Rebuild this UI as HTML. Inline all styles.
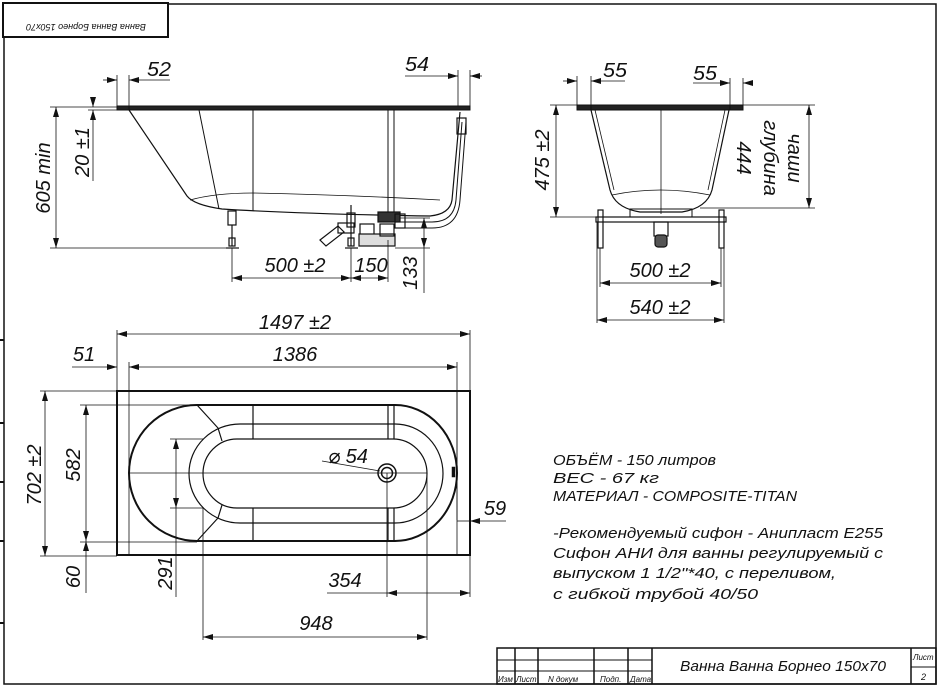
<!DOCTYPE html>
<html><head><meta charset="utf-8"><style>
html,body{margin:0;padding:0;background:#fff}
svg{display:block}
text{font-family:"Liberation Sans","DejaVu Sans",sans-serif;font-style:italic;fill:#111}
</style></head><body>
<svg width="940" height="686" viewBox="0 0 940 686" xmlns="http://www.w3.org/2000/svg">
<defs>
<marker id="a" viewBox="0 0 10 6" refX="10" refY="3" markerWidth="10" markerHeight="6" orient="auto-start-reverse" markerUnits="userSpaceOnUse"><path d="M0,0 L10,3 L0,6 Z" fill="#111"/></marker>
</defs>
<g stroke="#111" fill="none">
<!-- frame -->
<path d="M168,4 H936 V684 H4 V37" stroke-width="1.5"/>
<rect x="3" y="3" width="165" height="34" stroke-width="2"/>
<g stroke-width="2"><path d="M0,340 H4 M0,423 H4 M0,482 H4 M0,541 H4 M0,623 H4"/></g>

<!-- SIDE VIEW -->
<rect x="117" y="106" width="353" height="4" fill="#222" stroke-width="1"/>
<path d="M129,110 L187,196 Q194,205 222,209 Q300,214 430,216 Q450,214 452,200 L460,112" stroke-width="1.2"/>
<path d="M199,110 L219,209 M253,110 V211 M388,110 V214 M394,110 V214" stroke-width="1"/>
<path d="M190,200 Q215,193 253,193 Q350,195 440,200" stroke-width="0.8"/>
<path d="M462,122 L456,200 Q454,222 432,222 L400,222 M466,122 L460,200 Q458,228 432,228 L400,228" stroke-width="1"/>
<rect x="457" y="118" width="9" height="16" stroke-width="1.2"/>
<!-- legs -->
<g stroke-width="1.2">
<rect x="228" y="211" width="8" height="14"/><path d="M232,225 V246"/><rect x="229" y="238" width="6" height="8"/><path d="M226,248 H239"/>
<rect x="347" y="213" width="8" height="14"/><path d="M351,205 V246"/><rect x="348" y="238" width="6" height="8"/><path d="M345,248 H358"/>
</g>
<!-- siphon -->
<g stroke-width="1.2">
<path d="M320,240 L338,226 L344,232 L326,246 Z"/>
<rect x="338" y="223" width="16" height="10"/>
<rect x="360" y="224" width="14" height="12"/>
<rect x="359" y="234" width="36" height="12" fill="#ddd"/>
<rect x="378" y="212" width="22" height="10" fill="#333"/>
<rect x="395" y="214" width="10" height="14"/>
<rect x="380" y="224" width="14" height="12"/>
</g>
<!-- side dims -->
<g stroke-width="0.8">
<path d="M50,107 H117 M50,248 H238"/>
<path d="M56,107 V248" marker-start="url(#a)" marker-end="url(#a)"/>
<path d="M93,98 V107" marker-end="url(#a)"/><path d="M93,181 V110" marker-end="url(#a)"/><path d="M88,110 H117"/>
<path d="M117,75 V106 M129,75 V110"/>
<path d="M103,80 H117" marker-end="url(#a)"/><path d="M170,80 H129" marker-end="url(#a)"/>
<path d="M458,70 V106 M470,70 V106"/>
<path d="M405,76 H458" marker-end="url(#a)"/><path d="M482,76 H470" marker-end="url(#a)"/>
<path d="M232,248 V282 M351,248 V282 M388,240 V282"/>
<path d="M232,278 H351" marker-start="url(#a)" marker-end="url(#a)"/>
<path d="M351,278 H388" marker-start="url(#a)" marker-end="url(#a)"/>
<path d="M400,218 H430 M395,248 H430"/>
<path d="M424,218 V248" marker-start="url(#a)" marker-end="url(#a)"/><path d="M424,248 V293"/>
</g>

<!-- END VIEW -->
<rect x="577" y="105" width="166" height="5" fill="#222" stroke-width="1"/>
<path d="M591,110 L610,190 Q615,208 640,212 L682,212 Q707,208 712,190 L729,110" stroke-width="1.2"/>
<path d="M595,110 L614,190 M725,110 L708,190" stroke-width="0.8"/>
<path d="M612,195 Q660,185 710,195" stroke-width="0.8"/>
<path d="M661,110 V214" stroke-width="0.8"/>
<rect x="630" y="209" width="62" height="8" stroke-width="1"/>
<rect x="596" y="217" width="130" height="5" stroke-width="1.2"/>
<g stroke-width="1.2">
<rect x="598" y="210" width="5" height="38"/><rect x="719" y="210" width="5" height="38"/>
<rect x="654" y="222" width="14" height="14"/><rect x="655" y="235" width="12" height="12" rx="3" fill="#555"/>
</g>
<g stroke-width="0.8">
<path d="M550,105 H577 M550,217 H600 M743,105 H815 M700,208 H815"/>
<path d="M556,105 V217" marker-start="url(#a)" marker-end="url(#a)"/>
<path d="M809,105 V208" marker-start="url(#a)" marker-end="url(#a)"/>
<path d="M577,76 V105 M591,76 V110 M730,78 V110 M743,78 V105"/>
<path d="M563,81 H577" marker-end="url(#a)"/><path d="M625,81 H591" marker-end="url(#a)"/>
<path d="M693,83 H730" marker-end="url(#a)"/><path d="M752,83 H743" marker-end="url(#a)"/>
<path d="M597,222 V323 M600,248 V287 M721,248 V287 M724,222 V323"/>
<path d="M600,283 H721" marker-start="url(#a)" marker-end="url(#a)"/>
<path d="M597,320 H724" marker-start="url(#a)" marker-end="url(#a)"/>
</g>

<!-- PLAN VIEW -->
<rect x="117" y="391" width="353" height="164" stroke-width="2"/>
<path d="M129,391 V555 M457,391 V555" stroke-width="0.8"/>
<path d="M197,405 L395,405 A62,68 0 0 1 395,541 L197,541 A68,68 0 0 1 197,405 Z" stroke-width="2"/>
<path d="M240,424 L395,424 A48,49.5 0 0 1 395,523 L240,523 A51,49.5 0 0 1 240,424 Z" stroke-width="1.2"/>
<path d="M237,439 L393,439 A34,34.5 0 0 1 393,508 L237,508 A34,34.5 0 0 1 237,439 Z" stroke-width="1.2"/>
<path d="M129,473 H427" stroke-width="0.8"/>
<path d="M253,405 V439 M253,508 V541 M388,405 V439 M394,405 V439 M388,508 V541 M394,508 V541" stroke-width="1.2"/>
<path d="M197,405 L218,428 L222,441 M197,541 L218,518 L222,505" stroke-width="1.2"/>
<circle cx="387" cy="473" r="9" stroke-width="1.5"/><circle cx="387" cy="473" r="5.5" stroke-width="1.5"/>
<rect x="452" y="467" width="3" height="10" fill="#111" stroke-width="0.5"/>
<g stroke-width="0.8">
<path d="M117,330 V391 M470,330 V391 M129,362 V391 M457,362 V520"/>
<path d="M117,334 H470" marker-start="url(#a)" marker-end="url(#a)"/>
<path d="M129,367 H457" marker-start="url(#a)" marker-end="url(#a)"/>
<path d="M72,367 H117" marker-end="url(#a)"/>
<path d="M40,391 H117 M40,556 H117 M80,405 H197 M80,542 H197"/>
<path d="M45,391 V556" marker-start="url(#a)" marker-end="url(#a)"/>
<path d="M86,405 V541" marker-start="url(#a)" marker-end="url(#a)"/>
<path d="M86,556 V541" marker-end="url(#a)"/><path d="M86,556 V593"/>
<path d="M170,439 H203 M170,508 H203"/>
<path d="M176,439 V508" marker-start="url(#a)" marker-end="url(#a)"/><path d="M176,508 V597"/>
<path d="M387,473 V597 M470,555 V597"/>
<path d="M387,593 H470" marker-start="url(#a)" marker-end="url(#a)"/><path d="M327,593 H387"/>
<path d="M203,508 V640 M427,473 V640"/>
<path d="M203,637 H427" marker-start="url(#a)" marker-end="url(#a)"/>
<path d="M506,521 H470" marker-end="url(#a)"/><path d="M457,521 H470"/>
<path d="M322,461 L380,471"/>
</g>

<!-- title block -->
<g stroke-width="1.5">
<rect x="497" y="648" width="439" height="36"/>
<path d="M515,648 V684 M538,648 V684 M594,648 V684 M628,648 V684 M652,648 V684 M911,648 V684"/>
<path d="M497,660 H652 M497,671 H652 M911,667 H936" stroke-width="1"/>
</g>
</g>

<!-- texts -->
<text transform="translate(86,24) rotate(180)" font-size="9" text-anchor="middle">Ванна Ванна Борнео 150x70</text>
<g font-size="20">
<text x="147" y="76" textLength="24" lengthAdjust="spacingAndGlyphs">52</text>
<text x="405" y="71" textLength="24" lengthAdjust="spacingAndGlyphs">54</text>
<text transform="translate(50,178) rotate(-90)" text-anchor="middle">605 min</text>
<text transform="translate(89,152) rotate(-90)" text-anchor="middle">20 ±1</text>
<text x="295" y="272" text-anchor="middle">500 ±2</text>
<text x="371" y="272" text-anchor="middle">150</text>
<text transform="translate(417,273) rotate(-90)" text-anchor="middle">133</text>
<text x="603" y="77" textLength="24" lengthAdjust="spacingAndGlyphs">55</text>
<text x="693" y="80" textLength="24" lengthAdjust="spacingAndGlyphs">55</text>
<text transform="translate(549,160) rotate(-90)" text-anchor="middle">475 ±2</text>
<text transform="translate(737,158) rotate(90)" text-anchor="middle">444</text>
<text transform="translate(764,158) rotate(90)" text-anchor="middle">глубина</text>
<text transform="translate(788,158) rotate(90)" text-anchor="middle">чаши</text>
<text x="660" y="277" text-anchor="middle">500 ±2</text>
<text x="660" y="314" text-anchor="middle">540 ±2</text>
<text x="295" y="329" text-anchor="middle">1497 ±2</text>
<text x="295" y="361" text-anchor="middle">1386</text>
<text x="84" y="361" text-anchor="middle">51</text>
<text transform="translate(41,475) rotate(-90)" text-anchor="middle">702 ±2</text>
<text transform="translate(80,465) rotate(-90)" text-anchor="middle">582</text>
<text transform="translate(80,577) rotate(-90)" text-anchor="middle">60</text>
<text transform="translate(172,573) rotate(-90)" text-anchor="middle">291</text>
<text x="345" y="587" text-anchor="middle">354</text>
<text x="316" y="630" text-anchor="middle">948</text>
<text x="495" y="515" text-anchor="middle">59</text>
<text x="348" y="463" text-anchor="middle">⌀ 54</text>
</g>
<g font-size="15">
<text x="553" y="465" textLength="163" lengthAdjust="spacingAndGlyphs">ОБЪЁМ - 150 литров</text>
<text x="553" y="483" textLength="106" lengthAdjust="spacingAndGlyphs">ВЕС - 67 кг</text>
<text x="553" y="501" textLength="244" lengthAdjust="spacingAndGlyphs">МАТЕРИАЛ - COMPOSITE-TITAN</text>
<text x="553" y="538" textLength="330" lengthAdjust="spacingAndGlyphs">-Рекомендуемый сифон - Анипласт Е255</text>
<text x="553" y="558" textLength="330" lengthAdjust="spacingAndGlyphs">Сифон АНИ для ванны регулируемый с</text>
<text x="553" y="578" textLength="283" lengthAdjust="spacingAndGlyphs">выпуском 1 1/2"*40, с переливом,</text>
<text x="553" y="599" textLength="205" lengthAdjust="spacingAndGlyphs">с гибкой трубой 40/50</text>
<text x="680" y="671" textLength="206" lengthAdjust="spacingAndGlyphs">Ванна Ванна Борнео 150x70</text>
</g>
<g font-size="8">
<text x="498" y="682">Изм</text><text x="516" y="682">Лист</text><text x="548" y="682">N докум</text>
<text x="600" y="682">Подп.</text><text x="630" y="682">Дата</text>
<text x="913" y="660">Лист</text><text x="921" y="680" font-size="9">2</text>
</g>
</svg>
</body></html>
